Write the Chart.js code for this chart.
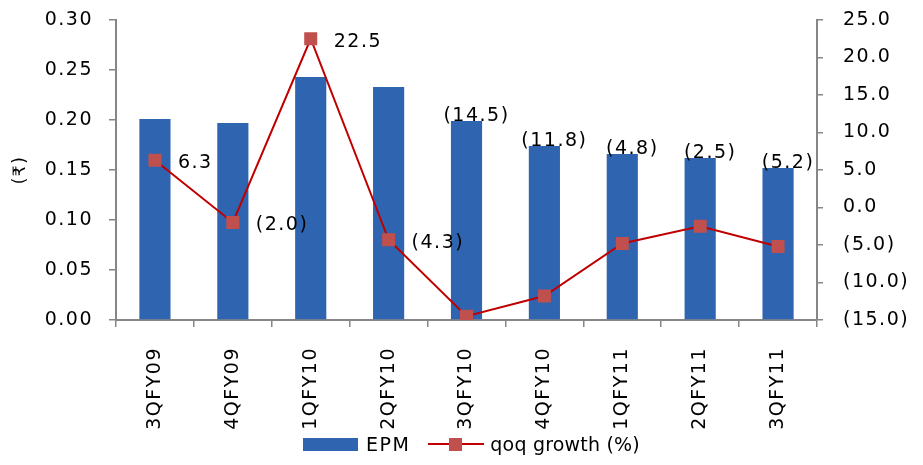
<!DOCTYPE html>
<html>
<head>
<meta charset="utf-8">
<script src="https://cdn.jsdelivr.net/npm/chart.js@4.4.1/dist/chart.umd.min.js"></script>
<style>
  html, body { margin: 0; padding: 0; background: #fff; }
  #wrap { position: relative; width: 923px; height: 465px; }
  #legend {
    position: absolute; left: 303px; top: 433px; margin: 0; padding: 0;
    list-style: none; display: flex; align-items: center;
    font-family: "DejaVu Sans", sans-serif; font-size: 19px; color: #000;
  }
</style>
</head>
<body>
<div id="wrap">
  <canvas id="chart" width="923" height="465"></canvas>
  <ul id="legend"></ul>
</div>
<script>
const quarters = ['3QFY09', '4QFY09', '1QFY10', '2QFY10', '3QFY10', '4QFY10', '1QFY11', '2QFY11', '3QFY11'];
const epm = [0.201, 0.197, 0.243, 0.233, 0.199, 0.174, 0.166, 0.162, 0.152];
const qoqGrowth = [6.3, -2.0, 22.5, -4.3, -14.5, -11.8, -4.8, -2.5, -5.2];

const AXIS_GREY = '#868686';
const FONT = '"DejaVu Sans", sans-serif';

// negative numbers shown in brackets, accounting style
const fmtPct = (v) => v < 0 ? `(${Math.abs(v).toFixed(1)})` : v.toFixed(1);

// fixed box sizes so the plot area lands at x 116..817, y 20..320
const fixWidth = (w) => (s) => {
  s.width = w;
  s.paddingTop = 0;
  s.paddingBottom = 0;
};

// wider tracking on all canvas text
const tracking = {
  id: 'tracking',
  beforeDraw(c) {
    c.ctx.letterSpacing = '1.5px';
  },
};

// value labels: first four sit to the right of the marker, the rest above the bar
const valueLabels = {
  id: 'valueLabels',
  afterDatasetsDraw(c) {
    const ctx = c.ctx;
    const pts = c.getDatasetMeta(1).data;
    const bars = c.getDatasetMeta(0).data;
    ctx.save();
    ctx.font = `19px ${FONT}`;
    ctx.fillStyle = '#000';
    ctx.textBaseline = 'middle';
    qoqGrowth.forEach((v, i) => {
      if (i < 4) {
        ctx.textAlign = 'left';
        ctx.fillText(fmtPct(v), pts[i].x + 23, pts[i].y + 3);
      } else {
        ctx.textAlign = 'center';
        ctx.fillText(fmtPct(v), bars[i].x + 10, bars[i].y - 5);
      }
    });
    ctx.restore();
  },
};

const htmlLegend = {
  id: 'htmlLegend',
  afterUpdate(c) {
    const ul = document.getElementById('legend');
    while (ul.firstChild) ul.firstChild.remove();
    c.data.datasets.forEach((ds, i) => {
      const li = document.createElement('li');
      li.style.display = 'flex';
      li.style.alignItems = 'center';
      li.style.marginRight = i === 0 ? '18px' : '0';
      const key = document.createElement('div');
      key.style.position = 'relative';
      key.style.width = ds.type === 'line' ? '56px' : '55px';
      key.style.height = '13px';
      key.style.marginRight = i === 0 ? '8px' : '6px';
      if (ds.type === 'line') {
        const line = document.createElement('div');
        line.style.cssText = `position:absolute;left:0;right:0;top:5px;height:2px;background:${ds.borderColor}`;
        const sq = document.createElement('div');
        sq.style.cssText = `position:absolute;left:21px;top:0;width:13px;height:13px;background:${ds.pointBackgroundColor}`;
        key.appendChild(line);
        key.appendChild(sq);
      } else {
        key.style.background = ds.backgroundColor;
      }
      const label = document.createElement('span');
      label.style.letterSpacing = i === 0 ? '1.5px' : '0.2px';
      label.textContent = ds.label;
      li.appendChild(key);
      li.appendChild(label);
      ul.appendChild(li);
    });
  },
};

const ctx = document.getElementById('chart');
const chart = new Chart(ctx, {
  type: 'bar',
  data: {
    labels: quarters,
    datasets: [
      {
        type: 'bar',
        label: 'EPM',
        data: epm,
        yAxisID: 'y',
        backgroundColor: '#2E64B0',
        barPercentage: 0.4,
        categoryPercentage: 1,
        order: 2,
      },
      {
        type: 'line',
        label: 'qoq growth (%)',
        data: qoqGrowth,
        yAxisID: 'y1',
        borderColor: '#C00000',
        borderWidth: 2,
        pointStyle: 'rect',
        pointRadius: 9.2,
        pointBackgroundColor: '#C0504D',
        pointBorderColor: '#C0504D',
        pointBorderWidth: 0,
        tension: 0,
        order: 1,
      },
    ],
  },
  options: {
    responsive: false,
    animation: false,
    layout: { padding: { top: 20, bottom: 35, left: 0, right: 0 } },
    scales: {
      x: {
        grid: { drawOnChartArea: false, color: AXIS_GREY, tickLength: 7, lineWidth: 1.5 },
        border: { color: AXIS_GREY, width: 2 },
        ticks: { color: '#000', font: { family: FONT, size: 19 }, minRotation: 90, maxRotation: 90, padding: 20 },
        afterFit: (s) => {
          s.height = 110;
          s.paddingTop = 0;
          s.paddingBottom = 0;
        },
      },
      y: {
        position: 'left',
        min: 0,
        max: 0.3,
        grid: { drawOnChartArea: false, color: AXIS_GREY, tickLength: 7, lineWidth: 1.5 },
        border: { color: AXIS_GREY, width: 2 },
        ticks: { stepSize: 0.05, color: '#000', font: { family: FONT, size: 19 }, padding: 16, callback: (v) => v.toFixed(2) },
        title: { display: true, text: '(₹)', color: '#000', font: { family: FONT, size: 17 }, padding: { top: 10, bottom: 0 } },
        afterFit: fixWidth(116),
      },
      y1: {
        position: 'right',
        min: -15,
        max: 25,
        grid: { drawOnChartArea: false, color: AXIS_GREY, tickLength: 6, lineWidth: 1.5 },
        border: { color: AXIS_GREY, width: 2 },
        ticks: { stepSize: 5, color: '#000', font: { family: FONT, size: 19 }, padding: 20, callback: (v) => fmtPct(v) },
        afterFit: fixWidth(106),
      },
    },
    plugins: {
      legend: { display: false },
      tooltip: { enabled: false },
    },
  },
  plugins: [tracking, valueLabels, htmlLegend],
});
</script>
</body>
</html>
